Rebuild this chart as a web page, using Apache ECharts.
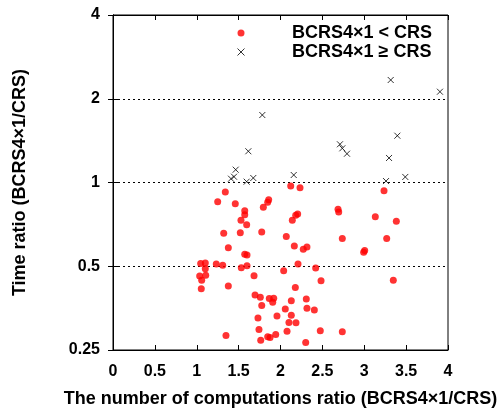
<!DOCTYPE html>
<html>
<head>
<meta charset="utf-8">
<script src="https://cdn.jsdelivr.net/npm/echarts@6/dist/echarts.min.js"></script>
<style>html,body{margin:0;padding:0;background:#fff;}#c{width:502px;height:414px;}</style>
</head>
<body>
<div id="c"></div>
<script>
// Series 1: BCRS4x1 < CRS
var ltX = [1.341,1.250,1.460,1.859,1.847,1.795,1.573,1.573,1.528,1.596,1.322,1.520,1.776,2.069,2.122,2.233,2.205,2.182,2.141,2.687,2.695,3.132,3.236,3.383,2.738,3.268,1.377,2.165,2.272,2.316,1.573,1.600,2.993,3.005,1.047,1.102,1.102,1.233,1.310,1.532,1.600,2.209,2.420,2.038,1.035,1.107,1.059,1.684,2.484,3.347,1.377,2.177,1.054,1.696,1.759,1.866,1.919,1.907,2.129,2.308,1.776,2.057,2.316,2.404,2.129,1.731,1.958,2.101,2.185,1.743,2.475,2.738,2.078,1.349,1.943,1.847,1.875,1.764,2.301];
var ltY = [0.924,0.853,0.839,0.867,0.849,0.814,0.792,0.766,0.731,0.705,0.657,0.660,0.664,0.640,0.971,0.958,0.771,0.762,0.731,0.801,0.783,0.753,0.934,0.725,0.629,0.629,0.583,0.591,0.575,0.586,0.552,0.549,0.561,0.570,0.512,0.514,0.490,0.509,0.504,0.494,0.502,0.509,0.493,0.482,0.461,0.464,0.445,0.462,0.443,0.445,0.425,0.419,0.415,0.394,0.387,0.383,0.384,0.371,0.376,0.381,0.361,0.351,0.353,0.348,0.333,0.326,0.331,0.314,0.313,0.296,0.293,0.291,0.292,0.282,0.284,0.279,0.277,0.271,0.266];
// Series 2: BCRS4x1 >= CRS
var geX = [1.783,3.316,3.904,3.395,1.616,2.710,2.738,2.794,3.296,1.465,1.445,1.409,1.675,1.596,2.158,3.260,3.490];
var geY = [1.748,2.336,2.120,1.473,1.295,1.372,1.327,1.269,1.225,1.112,1.049,1.032,1.038,1.007,1.064,1.012,1.047];
var seriesNames = ['BCRS4\u00d71 < CRS', 'BCRS4\u00d71 \u2265 CRS'];
var xTicks = [0, 0.5, 1, 1.5, 2, 2.5, 3, 3.5, 4];
var yTicks = [0.25, 0.5, 1, 2, 4];
var xTitle = 'The number of computations ratio (BCRS4\u00d71/CRS)';
var yTitle = 'Time ratio (BCRS4\u00d71/CRS)';

function pairs(xs, ys){ return xs.map(function(x,i){ return [x, ys[i]]; }); }
var FONT = '"Liberation Sans", Arial, sans-serif';
var crossPath = 'path://M0,0L10,10M10,0L0,10';

var chart = echarts.init(document.getElementById('c'), null, {renderer:'canvas'});
var lblStyle = {color:'#000', fontFamily:FONT, fontWeight:'bold', fontSize:16};
chart.setOption({
  animation:false,
  backgroundColor:'#fff',
  grid:{left:113, right:54, top:15, bottom:64, show:true, borderColor:'#000', borderWidth:1, backgroundColor:'transparent'},
  legend:{
    orient:'vertical', left:237, top:24, padding:0, itemGap:1,
    itemWidth:8, itemHeight:7,
    formatter:function(n){ return '{a|' + n + '}'; },
    textStyle:{color:'#000', fontFamily:FONT, fontWeight:'bold', fontSize:18,
      rich:{a:{color:'#000', fontFamily:FONT, fontWeight:'bold', fontSize:18, padding:[0,0,0,42]}}},
    data:[
      {name:seriesNames[0], icon:'circle', itemStyle:{color:'#ff0000', borderWidth:0}},
      {name:seriesNames[1], icon:crossPath, itemStyle:{color:'#000', borderColor:'#000', borderWidth:1}}
    ]
  },
  xAxis:[{
    type:'value', min:xTicks[0], max:xTicks[xTicks.length-1], interval:0.5,
    position:'bottom',
    axisLine:{show:true, lineStyle:{color:'#000', width:1}},
    axisTick:{show:true, inside:true, length:5, lineStyle:{color:'#000'}},
    axisLabel:Object.assign({margin:14, formatter:function(v){return String(v);}}, lblStyle),
    splitLine:{show:false},
    name:xTitle, nameLocation:'middle', nameGap:40,
    nameTextStyle:{color:'#000', fontFamily:FONT, fontWeight:'bold', fontSize:18}
  },{
    type:'value', min:0, max:4, interval:0.5, position:'top',
    axisLine:{show:true, lineStyle:{color:'#000'}},
    axisTick:{show:true, inside:true, length:5, lineStyle:{color:'#000'}},
    axisLabel:{show:false}, splitLine:{show:false}
  }],
  yAxis:[{
    type:'log', logBase:2, min:yTicks[0], max:yTicks[yTicks.length-1],
    position:'left',
    axisLine:{show:true, lineStyle:{color:'#000'}},
    axisTick:{show:true, inside:true, length:5, lineStyle:{color:'#000'}},
    axisLabel:Object.assign({margin:13, formatter:function(v){return String(+v.toPrecision(3));}}, lblStyle),
    splitLine:{show:true, lineStyle:{color:'#000', width:1, type:[2,3]}},
    minorTick:{show:false},
    name:yTitle, nameLocation:'middle', nameGap:84,
    nameTextStyle:{color:'#000', fontFamily:FONT, fontWeight:'bold', fontSize:18}
  },{
    type:'log', logBase:2, min:0.25, max:4, position:'right',
    axisLine:{show:true, lineStyle:{color:'#000'}},
    axisTick:{show:true, inside:true, length:5, lineStyle:{color:'#000'}},
    axisLabel:{show:false}, splitLine:{show:false}
  }],
  series:[{
    name:seriesNames[0], type:'scatter', xAxisIndex:0, yAxisIndex:0,
    data:pairs(ltX, ltY), symbol:'circle', symbolSize:7,
    itemStyle:{color:'#ff0000'}
  },{
    name:seriesNames[1], type:'scatter', xAxisIndex:0, yAxisIndex:0,
    data:pairs(geX, geY), symbol:crossPath, symbolSize:6,
    itemStyle:{color:'#000', borderColor:'#000', borderWidth:1}
  }]
});
</script>
</body>
</html>
